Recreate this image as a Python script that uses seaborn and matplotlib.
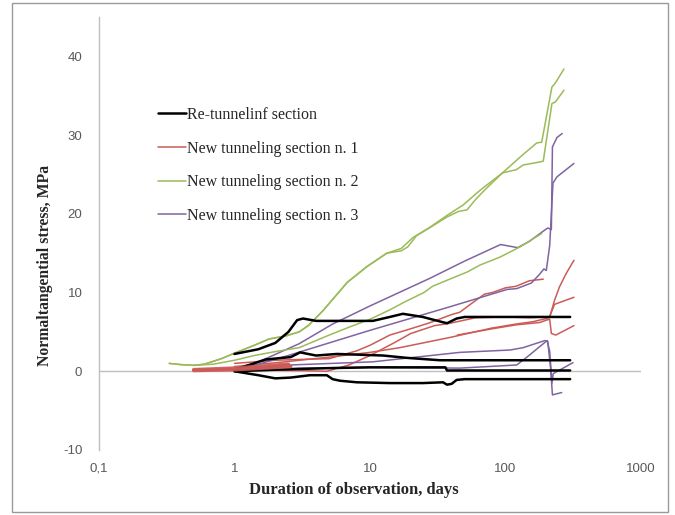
import numpy as np
import pandas as pd
import matplotlib
matplotlib.use("Agg")
import matplotlib.pyplot as plt
import seaborn as sns
from matplotlib.lines import Line2D
from matplotlib.patches import Rectangle

# ---------------- data ----------------
sections = ["Re-tunnelinf section", "New tunneling section n. 1",
            "New tunneling section n. 2", "New tunneling section n. 3"]
colors = ["#000000", "#CC5B57", "#9BBB59", "#8064A2"]

x_ticks = [0.1, 1, 10, 100, 1000]
x_tick_labels = ["0,1", "1", "10", "100", "1000"]
y_ticks = [-10, 0, 10, 20, 30, 40]

# Re-tunnelling section (black)
k1_x = [1, 1.5, 2, 2.5, 2.9, 3.2, 4, 6, 10.5, 14, 17.5, 24.5, 30, 37, 43.6, 50, 100, 300]
k1_y = [2.2, 2.8, 3.6, 5.0, 6.5, 6.7, 6.4, 6.4, 6.4, 6.9, 7.3, 6.9, 6.5, 6.1, 6.7, 6.9, 6.9, 6.9]
k2_x = [1, 1.7, 2.6, 3.05, 4.0, 5.7, 12.5, 18.8, 32.8, 50, 300]
k2_y = [0.2, 1.5, 1.8, 2.4, 2.0, 2.2, 2.0, 1.7, 1.4, 1.4, 1.4]
k3_x = [1, 2, 5, 10, 36, 37, 300]
k3_y = [0.0, 0.2, 0.4, 0.5, 0.5, 0.1, 0.1]
k4_x = [1, 1.5, 2, 2.6, 3.6, 4.8, 5.3, 6, 8, 14, 24.5, 34.6, 37, 40, 43.6, 50, 300]
k4_y = [0.0, -0.5, -0.9, -0.8, -0.5, -0.5, -1.0, -1.2, -1.4, -1.5, -1.5, -1.4, -1.7, -1.6, -1.1, -1.0, -1.0]

# New tunneling section n. 1 (red)
r1_x = [0.5, 1, 1.5, 2.5]
r1_y = [0.2, 0.4, 0.6, 0.9]
r2_x = [0.5, 1, 2.6]
r2_y = [0.1, 0.2, 0.6]
r3_x = [1, 2, 3, 5, 6, 8, 10, 14, 20, 28, 40, 46, 55, 70, 80, 100, 120, 150, 190]
r3_y = [1.0, 1.4, 1.5, 1.6, 2.0, 2.6, 3.3, 4.6, 5.4, 6.2, 7.2, 7.5, 8.5, 9.8, 10.0, 10.6, 10.8, 11.5, 11.7]
r4_x = [1, 3, 4.8, 7, 10, 15, 20, 30, 39, 60, 100, 150, 200, 210, 230, 320]
r4_y = [0.2, 0.1, 0.0, 0.8, 2.0, 3.6, 4.8, 5.8, 6.1, 6.8, 6.9, 6.8, 6.9, 6.8, 8.5, 9.4]
r5_x = [1, 2.06, 5, 10, 16.6, 39, 80, 120, 160, 200, 212, 230, 250, 280, 320]
r5_y = [0.6, 1.1, 1.8, 2.4, 3.0, 4.3, 5.5, 6.0, 6.3, 6.7, 6.9, 9.0, 10.7, 12.4, 14.1]
r6_x = [44, 80, 120, 180, 200, 212, 218, 235, 320]
r6_y = [4.6, 5.4, 5.9, 6.2, 6.5, 6.6, 4.8, 4.6, 5.8]

# New tunneling section n. 2 (green)
g1_x = [0.33, 0.4, 0.5, 0.6, 0.8, 1, 1.4, 1.8, 2.4, 3, 3.5, 4.5, 6.8, 9.5, 13.3, 17, 19, 22, 28,
        37, 45, 52, 60, 70, 95, 120, 135, 181, 190, 220, 233, 270]
g1_y = [1.0, 0.85, 0.75, 0.9, 1.6, 2.3, 3.3, 4.1, 4.5, 5.0, 5.8, 7.7, 11.3, 13.3, 15.0, 15.3, 15.8, 17.2, 18.3,
        19.6, 20.3, 20.5, 21.8, 23.0, 25.2, 25.6, 26.2, 26.6, 26.7, 34.0, 34.2, 35.7]
g2_x = [0.33, 0.4, 0.5, 0.6, 0.8, 1, 1.4, 1.8, 2.4, 3, 3.5, 4.5, 6.8, 9.5, 13.3, 17, 20.8, 27.7,
        37, 48.5, 65, 95, 130, 170, 185, 220, 233, 270]
g2_y = [1.0, 0.85, 0.75, 0.9, 1.6, 2.3, 3.3, 4.1, 4.5, 5.0, 5.8, 7.7, 11.3, 13.3, 15.0, 15.6, 17.0, 18.3,
        19.8, 21.1, 23.0, 25.2, 27.3, 29.0, 29.1, 36.1, 36.6, 38.4]
g3_x = [0.5, 0.7, 1, 1.4, 2, 3, 4, 5, 7, 10, 14, 18, 25, 29, 40, 52, 65, 91, 128, 185]
g3_y = [0.75, 0.9, 1.4, 2.0, 2.5, 3.0, 3.9, 4.6, 5.6, 6.6, 7.8, 8.8, 10.0, 10.8, 11.8, 12.6, 13.5, 14.5, 15.8, 17.5]

# New tunneling section n. 3 (purple)
p1_x = [1, 1.6, 3, 5.3, 10, 27.6, 50, 92, 123, 150, 190, 205, 218, 222, 240, 262]
p1_y = [0.0, 1.4, 3.5, 6.0, 8.3, 11.8, 14.0, 16.1, 15.7, 16.5, 17.8, 18.2, 18.0, 28.5, 29.7, 30.2]
p2_x = [1, 2.6, 10, 39, 103, 121, 155, 178, 192, 200, 212, 224, 240, 320]
p2_y = [0.0, 2.1, 5.2, 8.2, 10.4, 10.5, 11.2, 12.3, 13.0, 12.8, 16.0, 23.9, 24.7, 26.4]
p3_x = [1, 2.6, 10.5, 46, 108, 135, 195, 205, 215, 222, 260]
p3_y = [0.1, 0.8, 1.2, 2.4, 2.7, 3.0, 3.9, 3.8, 0.5, -3.0, -2.7]
p4_x = [1, 3, 10, 46, 121, 144, 190, 203, 212, 220, 225, 315]
p4_y = [0.0, 0.4, 0.5, 0.4, 0.8, 1.8, 3.5, 3.9, 2.5, -1.5, -0.3, 1.1]

series = [
    (0, "k1", k1_x, k1_y), (0, "k2", k2_x, k2_y), (0, "k3", k3_x, k3_y), (0, "k4", k4_x, k4_y),
    (1, "r1", r1_x, r1_y), (1, "r2", r2_x, r2_y), (1, "r3", r3_x, r3_y), (1, "r4", r4_x, r4_y),
    (1, "r5", r5_x, r5_y), (1, "r6", r6_x, r6_y),
    (2, "g1", g1_x, g1_y), (2, "g2", g2_x, g2_y), (2, "g3", g3_x, g3_y),
    (3, "p1", p1_x, p1_y), (3, "p2", p2_x, p2_y), (3, "p3", p3_x, p3_y), (3, "p4", p4_x, p4_y),
]

rows = []
for si, lid, xs, ys in series:
    for i, (xv, yv) in enumerate(zip(xs, ys)):
        rows.append({"section": sections[si], "line": lid, "order": i, "day": xv, "stress": yv})
df = pd.DataFrame(rows)

# ---------------- figure ----------------
sns.set_style("white")
plt.rcParams["font.family"] = ["Liberation Serif", "DejaVu Serif"]
plt.rcParams["axes.unicode_minus"] = False

W, H = 675, 515
fig = plt.figure(figsize=(W / 100, H / 100), dpi=100)
ax = fig.add_axes([99 / W, 1 - 450 / H, 542 / W, (450 - 17) / H])

ax.axhline(0, color="#BFBFBF", lw=1.0, zorder=0)

draw_order = [1, 3, 2, 0]
widths = {0: 1.8, 1: 1.1, 2: 1.1, 3: 1.1}
for si in draw_order:
    sub = df[df["section"] == sections[si]]
    sns.lineplot(data=sub, x="day", y="stress", units="line", estimator=None, sort=False,
                 color=colors[si], lw=widths[si], ax=ax, legend=False)

# thick red start band
sub = df[df["line"].isin(["r1", "r2"])]
sns.lineplot(data=sub, x="day", y="stress", units="line", estimator=None, sort=False,
             color=colors[1], lw=2.6, ax=ax, legend=False, alpha=0.9)

ax.set_xscale("log")
ax.set_xlim(0.1, 1000)
ax.set_ylim(-10, 45)
ax.set_xticks(x_ticks)
ax.set_xticklabels(x_tick_labels)
ax.set_yticks(y_ticks)
ax.minorticks_off()
ax.tick_params(axis="both", length=0, labelsize=9.5, labelcolor="#595959")
ax.tick_params(axis="x", pad=9)
ax.tick_params(axis="y", pad=12)
for lab in ax.get_xticklabels() + ax.get_yticklabels():
    lab.set_family("Liberation Sans")

for s in ["top", "right", "bottom"]:
    ax.spines[s].set_visible(False)
ax.spines["left"].set_color("#BFBFBF")
ax.spines["left"].set_linewidth(1.0)
ax.set_xlabel("")
ax.set_ylabel("")

fig.text(354 / W, 1 - 490 / H, "Duration of observation, days", ha="center", va="center",
         fontsize=12, fontweight="bold")
fig.text(45 / W, 1 - 265 / H, "Normaltangential stress, MPa", ha="center", va="center",
         rotation=90, fontsize=11.3, fontweight="bold")

handles = [Line2D([], [], color=colors[i], lw=(1.8 if i == 0 else 1.1)) for i in range(4)]
ax.legend(handles, sections, loc="upper left", bbox_to_anchor=(158 / W, 1 - 107 / H),
          bbox_transform=fig.transFigure, frameon=False, fontsize=11.5, handlelength=1.75,
          handletextpad=0.05, labelspacing=1.10, borderpad=0, borderaxespad=0)

fig.add_artist(Rectangle((12 / W, 3 / H), (668 - 12) / W, (512 - 3) / H, transform=fig.transFigure,
                         fill=False, edgecolor="#9A9A9A", lw=1.0))

fig.savefig("out.png", dpi=100)
